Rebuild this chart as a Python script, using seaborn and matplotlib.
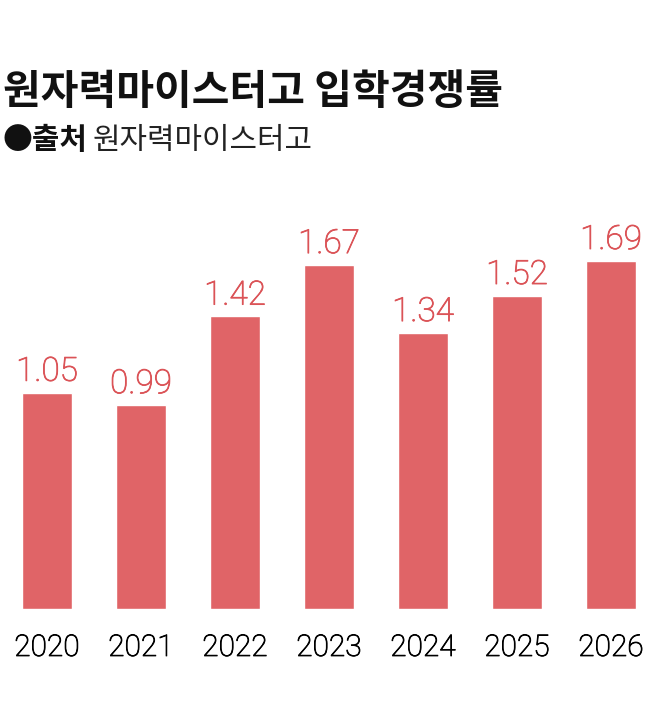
import matplotlib
matplotlib.use("Agg")
import matplotlib.pyplot as plt
import matplotlib.patheffects as pe
import seaborn as sns
import pandas as pd

years = ["2020", "2021", "2022", "2023", "2024", "2025", "2026"]
values = [1.05, 0.99, 1.42, 1.67, 1.34, 1.52, 1.69]
labels = ["1.05", "0.99", "1.42", "1.67", "1.34", "1.52", "1.69"]
title = "원자력마이스터고 입학경쟁률"
source_head = "●출처"
source_body = "원자력마이스터고"

sns.set_style("white")
plt.rcParams['font.family'] = ['Noto Sans CJK KR', 'DejaVu Sans']

bar_color = "#E06467"
label_color = "#DB5357"

df = pd.DataFrame({"year": years, "value": values})

fig = plt.figure(figsize=(6.58, 7.13), dpi=100)
ax = fig.add_axes([0.0, 0.1459, 1.0, 0.5778])
sns.barplot(data=df, x="year", y="value", color=bar_color, saturation=1,
            width=0.535, ax=ax)
ax.set_xlim(-0.5, 6.5)
ax.set_ylim(0, 2.0)
for i, (v, t) in enumerate(zip(values, labels)):
    ax.annotate(t, (i, v), xytext=(0, 3.5), textcoords="offset points",
                ha="center", va="bottom", fontsize=24, color=label_color,
                family=["Roboto", "DejaVu Sans"], fontweight="light",
                path_effects=[pe.withStroke(linewidth=0.6, foreground=label_color)])
ax.set_xlabel("")
ax.set_ylabel("")
ax.set_yticks([])
ax.tick_params(axis="x", length=0, pad=18)
for lab in ax.get_xticklabels():
    lab.set_fontsize(21.5)
    lab.set_family(["Roboto", "DejaVu Sans"])
    lab.set_fontweight("light")
    lab.set_color("#000000")
    lab.set_path_effects([pe.withStroke(linewidth=0.6, foreground="#000000")])
for s in ax.spines.values():
    s.set_visible(False)

fig.text(0.004, 0.871, title, fontsize=29.5, fontweight="bold", ha="left",
         va="center", color="#111111")
t1 = fig.text(0.004, 0.803, source_head, fontsize=21.5, fontweight="bold",
              ha="left", va="center", color="#111111")
fig.canvas.draw()
bb = t1.get_window_extent()
fig.text(bb.x1 / fig.bbox.width + 0.008, 0.803, source_body, fontsize=21.5,
         ha="left", va="center", color="#222222", fontweight="light")

fig.savefig("out.png", dpi=100)
